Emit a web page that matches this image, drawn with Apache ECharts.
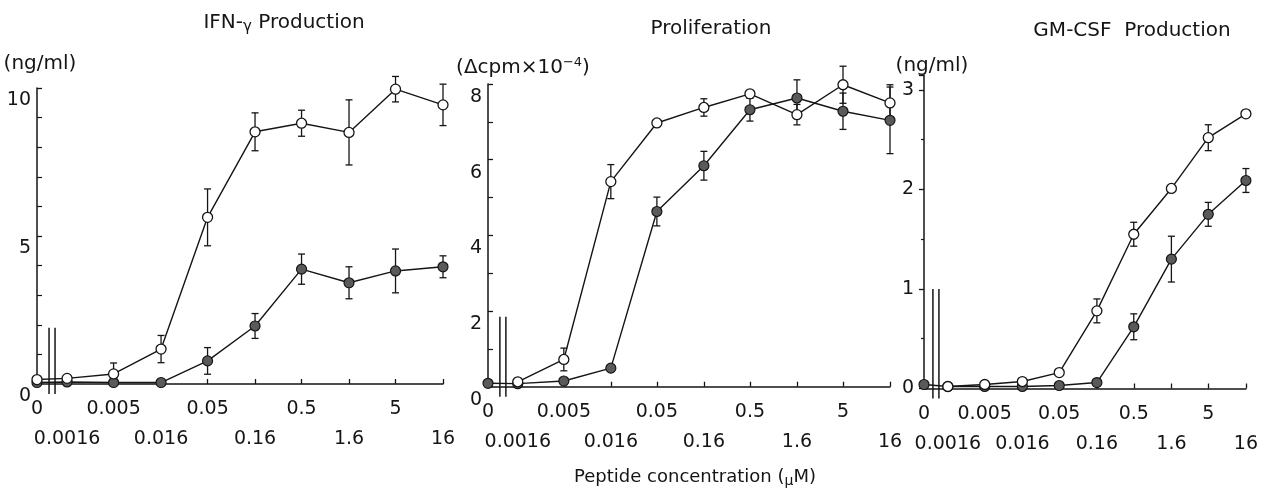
<!DOCTYPE html>
<html><head><meta charset="utf-8">
<script src="https://cdn.jsdelivr.net/npm/echarts@6/dist/echarts.min.js"></script>
<style>html,body{margin:0;padding:0;background:#fff}#c{width:1261px;height:490px}</style>
</head><body><div id="c"></div>
<script>
// ---- data ----
const concentrations = [0, 0.0016, 0.005, 0.016, 0.05, 0.16, 0.5, 1.6, 5, 16];
const concLabels = ['0', '0.0016', '0.005', '0.016', '0.05', '0.16', '0.5', '1.6', '5', '16'];

// IFN-γ production (ng/ml)
const ifnOpen       = [0.15, 0.19, 0.34, 1.18, 5.63, 8.52, 8.81, 8.5, 9.96, 9.43];
const ifnOpenErr    = [null, null, 0.37, 0.46, 0.96, 0.64, 0.44, 1.1, 0.43, 0.7];
const ifnFilled     = [0.05, 0.07, 0.05, 0.05, 0.78, 1.96, 3.88, 3.42, 3.82, 3.96];
const ifnFilledErr  = [null, null, null, null, 0.45, 0.42, 0.51, 0.54, 0.74, 0.37];

// Proliferation (Δcpm×10^-4)
const proOpen       = [null, 0.13, 0.72, 5.42, 6.97, 7.38, 7.74, 7.19, 7.98, 7.5];
const proOpenErr    = [null, null, 0.3, 0.45, null, 0.23, null, 0.27, 0.49, 0.48];
const proFilled     = [0.09, 0.08, 0.15, 0.49, 4.63, 5.84, 7.32, 7.63, 7.28, 7.04];
const proFilledErr  = [null, null, null, null, 0.38, 0.38, 0.3, 0.48, 0.48, 0.88];

// GM-CSF production (ng/ml)
const gmOpen        = [null, 0.02, 0.04, 0.07, 0.16, 0.78, 1.55, 2.01, 2.52, 2.76];
const gmOpenErr     = [null, null, null, null, null, 0.12, 0.12, null, 0.13, null];
const gmFilled      = [0.04, 0.02, 0.02, 0.02, 0.03, 0.06, 0.62, 1.3, 1.75, 2.09];
const gmFilledErr   = [null, null, null, null, null, null, 0.13, 0.23, 0.12, 0.12];

// ---- broken log axis: zero dose sits BREAK_GAP decades left of the lowest dose ----
const BREAK_GAP = 0.32;
const xPos = c => c === 0 ? Math.log10(concentrations[1]) - BREAK_GAP : Math.log10(c);
const xTicks = concentrations.map(xPos);
const xTicksTop = xTicks.filter((t, i) => i % 2 === 0);
const xTicksBottom = xTicks.filter((t, i) => i % 2 === 1);
const X_MIN = xPos(0), X_MAX = xPos(concentrations[concentrations.length - 1]);

const FONT = 'DejaVu Sans';
const INK = '#151515';

function labelFor(v) {
  let idx = 0, best = Infinity;
  xTicks.forEach((t, i) => { const d = Math.abs(t - v); if (d < best) { best = d; idx = i; } });
  return best > 1e-6 ? '' : concLabels[idx];
}

const panels = [
  { grid: { left: 37, top: 88, width: 406, height: 296 },
    y: { max: 10, interval: 5, minor: 5, inside: true, labPad: [2, 0, 0, 0], vAlign: 'top' },
    open: ifnOpen, openErr: ifnOpenErr, filled: ifnFilled, filledErr: ifnFilledErr, breakTop: 1.9 },
  { grid: { left: 488, top: 84, width: 402, height: 302.7 },
    y: { max: 8, interval: 2, minor: 2, inside: true, labPad: [3, 0, 0, 0], vAlign: 'top' },
    open: proOpen, openErr: proOpenErr, filled: proFilled, filledErr: proFilledErr, breakTop: 1.85 },
  { grid: { left: 924, top: 75, width: 326, height: 313.5 },
    y: { max: 3.15, interval: 1, minor: 2, inside: false, labPad: [14, 0, 0, 0], vAlign: 'middle' },
    open: gmOpen, openErr: gmOpenErr, filled: gmFilled, filledErr: gmFilledErr, breakTop: 1.0 }
];

function errRender(params, api) {
  const x = api.value(0), y = api.value(1), e = api.value(2);
  const t = api.coord([x, y + e]), b = api.coord([x, y - e]);
  const w = 3.5, st = { stroke: INK, lineWidth: 1.3 };
  return { type: 'group', children: [
    { type: 'line', shape: { x1: t[0], y1: t[1], x2: b[0], y2: b[1] }, style: st },
    { type: 'line', shape: { x1: t[0] - w, y1: t[1], x2: t[0] + w, y2: t[1] }, style: st },
    { type: 'line', shape: { x1: b[0] - w, y1: b[1], x2: b[0] + w, y2: b[1] }, style: st }
  ] };
}

function breakRenderFactory(topVal) {
  return function (params, api) {
    const bx = api.value(0);
    const p0 = api.coord([bx, 0]);
    const p1 = api.coord([bx, topVal]);
    const st = { stroke: INK, lineWidth: 1.5 };
    return { type: 'group', children: [
      { type: 'line', shape: { x1: p0[0] - 3, y1: p0[1] + 10, x2: p0[0] - 3, y2: p1[1] }, style: st },
      { type: 'line', shape: { x1: p0[0] + 3, y1: p0[1] + 10, x2: p0[0] + 3, y2: p1[1] }, style: st }
    ] };
  };
}

const labelStyle = { formatter: labelFor, color: INK, fontFamily: FONT, fontSize: 19, margin: 16,
  showMinLabel: true, showMaxLabel: true, hideOverlap: false };

const grids = [], xAxes = [], yAxes = [], series = [];
panels.forEach((p, i) => {
  grids.push(p.grid);
  const xi = xAxes.length;
  // main axis: line, ticks and the upper row of labels
  xAxes.push({
    type: 'value', gridIndex: i, min: X_MIN, max: X_MAX, position: 'bottom',
    axisLine: { show: true, onZero: false, lineStyle: { color: INK, width: 1.5 } },
    axisTick: { show: true, inside: true, length: 5, customValues: xTicks, lineStyle: { color: INK, width: 1.3 } },
    axisLabel: Object.assign({ customValues: xTicksTop }, labelStyle),
    splitLine: { show: false }
  });
  // companion axis: the lower row of labels only
  xAxes.push({
    type: 'value', gridIndex: i, min: X_MIN, max: X_MAX, position: 'bottom', offset: 30,
    axisLine: { show: false, onZero: false }, axisTick: { show: false },
    axisLabel: Object.assign({ customValues: xTicksBottom }, labelStyle),
    splitLine: { show: false }
  });
  yAxes.push({
    type: 'value', gridIndex: i, min: 0, max: p.y.max, interval: p.y.interval,
    axisLine: { show: true, onZero: false, lineStyle: { color: INK, width: 1.5 } },
    axisTick: { show: true, inside: p.y.inside, length: 5, lineStyle: { color: INK, width: 1.3 } },
    minorTick: { show: true, splitNumber: p.y.minor, length: p.y.inside ? 5 : 3, lineStyle: { color: INK, width: 1.2 } },
    axisLabel: { color: INK, fontFamily: FONT, fontSize: 19, margin: p.y.inside ? 6 : 10,
      verticalAlign: p.y.vAlign, lineHeight: 20, padding: p.y.labPad, showMinLabel: true,
      formatter: v => (Math.abs(v / p.y.interval - Math.round(v / p.y.interval)) < 1e-9) ? String(v) : '' },
    splitLine: { show: false }
  });
  const mk = arr => concentrations.map((c, k) => [xPos(c), arr[k]]);
  const mkErr = (m, e) => concentrations.map((c, k) => [xPos(c), m[k], e[k]]).filter(d => d[1] != null && d[2] != null);
  const ax = { xAxisIndex: xi, yAxisIndex: i };
  series.push(Object.assign({ type: 'custom', z: 1, silent: true,
    renderItem: breakRenderFactory(p.breakTop),
    data: [[(X_MIN + xTicks[1]) / 2, 0]], encode: { x: 0, y: 1 } }, ax));
  series.push(Object.assign({ type: 'custom', z: 2, renderItem: errRender,
    data: mkErr(p.filled, p.filledErr), encode: { x: 0, y: 1 } }, ax));
  series.push(Object.assign({ type: 'custom', z: 2, renderItem: errRender,
    data: mkErr(p.open, p.openErr), encode: { x: 0, y: 1 } }, ax));
  series.push(Object.assign({ name: 'filled', type: 'line', z: 3,
    data: mk(p.filled), symbol: 'circle', symbolSize: 10, showAllSymbol: true,
    lineStyle: { color: INK, width: 1.4 },
    itemStyle: { color: '#5a5a5a', borderColor: INK, borderWidth: 1.2 } }, ax));
  series.push(Object.assign({ name: 'open', type: 'line', z: 4,
    data: mk(p.open), symbol: 'circle', symbolSize: 10, showAllSymbol: true,
    lineStyle: { color: INK, width: 1.4 },
    itemStyle: { color: '#ffffff', borderColor: INK, borderWidth: 1.3 } }, ax));
});

const base = { fontFamily: FONT, color: INK, fontWeight: 'normal' };
function ttl(text, left, top, rich) {
  return { text, left, top, textAlign: 'center', textVerticalAlign: 'middle', padding: 0,
    textStyle: Object.assign({}, base, { rich }) };
}
const titles = [
  ttl('{a|IFN-}{g|γ}{a| Production}', 284, 23, { a: Object.assign({}, base, { fontSize: 20, lineHeight: 24 }), g: Object.assign({}, base, { fontSize: 15, lineHeight: 15, verticalAlign: 'bottom' }) }),
  ttl('{a|Proliferation}', 711, 29, { a: Object.assign({}, base, { fontSize: 20 }) }),
  ttl('{a|GM-CSF  Production}', 1132, 31, { a: Object.assign({}, base, { fontSize: 20 }) }),
  ttl('{a|(ng/ml)}', 40, 64, { a: Object.assign({}, base, { fontSize: 20 }) }),
  ttl('{a|(Δcpm×10}{s|−4}{a|)}', 523, 68, { a: Object.assign({}, base, { fontSize: 20, lineHeight: 24 }), s: Object.assign({}, base, { fontSize: 13, lineHeight: 13, verticalAlign: 'top' }) }),
  ttl('{a|(ng/ml)}', 932, 66, { a: Object.assign({}, base, { fontSize: 20 }) }),
  ttl('{a|Peptide concentration (}{m|μ}{a|M)}', 695, 477, { a: Object.assign({}, base, { fontSize: 18, lineHeight: 22 }), m: Object.assign({}, base, { fontSize: 14, lineHeight: 14, verticalAlign: 'bottom' }) })
];

const chart = echarts.init(document.getElementById('c'), null, { renderer: 'canvas' });
chart.setOption({
  animation: false,
  backgroundColor: '#ffffff',
  title: titles,
  grid: grids, xAxis: xAxes, yAxis: yAxes, series
});
</script></body></html>
